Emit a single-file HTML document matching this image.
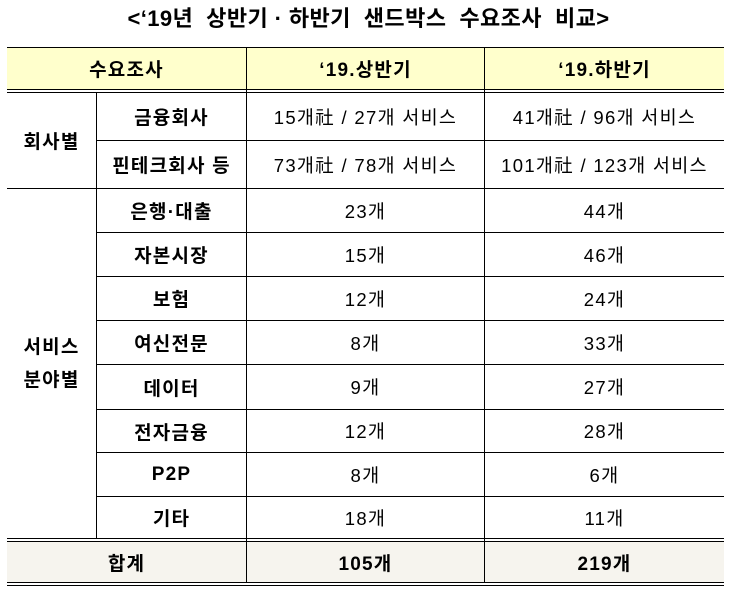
<!DOCTYPE html>
<html>
<head>
<meta charset="utf-8">
<style>
  html,body{margin:0;padding:0;background:#fff;}
  body{width:735px;height:595px;position:relative;overflow:hidden;
    font-family:"Liberation Sans","Noto Sans CJK KR",sans-serif;color:#000;}
  .h{position:absolute;height:1px;background:#000;}
  .v{position:absolute;width:1px;background:#000;}
  .c{position:absolute;display:flex;align-items:center;justify-content:center;
     font-size:18.5px;letter-spacing:1.3px;white-space:nowrap;text-align:center;}
  .b{font-weight:bold;font-size:19px;letter-spacing:1.2px;}
  .title{position:absolute;left:0;top:1px;width:737px;text-align:center;
     font-size:22px;font-weight:bold;letter-spacing:0.4px;white-space:pre;}
</style>
</head>
<body>
<div class="title">&lt;‘19년  상반기 · 하반기  샌드박스  수요조사  비교&gt;</div>

<!-- fills -->
<div style="position:absolute;left:7px;top:48px;width:717px;height:41px;background:#FFFFCC;"></div>
<div style="position:absolute;left:7px;top:542px;width:717px;height:40px;background:#F6F4EE;"></div>

<!-- horizontal lines -->
<div class="h" style="left:7px;top:47px;width:717px;"></div>
<div class="h" style="left:7px;top:89px;width:717px;"></div>
<div class="h" style="left:7px;top:92px;width:717px;"></div>
<div class="h" style="left:96px;top:140px;width:628px;"></div>
<div class="h" style="left:7px;top:188px;width:717px;"></div>
<div class="h" style="left:96px;top:232px;width:628px;"></div>
<div class="h" style="left:96px;top:276px;width:628px;"></div>
<div class="h" style="left:96px;top:320px;width:628px;"></div>
<div class="h" style="left:96px;top:364px;width:628px;"></div>
<div class="h" style="left:96px;top:409px;width:628px;"></div>
<div class="h" style="left:96px;top:452px;width:628px;"></div>
<div class="h" style="left:96px;top:496px;width:628px;"></div>
<div class="h" style="left:7px;top:538px;width:717px;"></div>
<div class="h" style="left:7px;top:541px;width:717px;"></div>
<div class="h" style="left:7px;top:582px;width:717px;"></div>
<div class="h" style="left:7px;top:585px;width:717px;"></div>

<!-- vertical lines -->
<div class="v" style="left:246px;top:47px;height:535px;"></div>
<div class="v" style="left:484px;top:47px;height:535px;"></div>
<div class="v" style="left:96px;top:92px;height:446px;"></div>

<!-- header -->
<div class="c b" style="left:7px;top:48px;width:239px;height:41px;">수요조사</div>
<div class="c b" style="left:247px;top:48px;width:237px;height:41px;">‘19.상반기</div>
<div class="c b" style="left:485px;top:48px;width:239px;height:41px;">‘19.하반기</div>

<!-- 회사별 -->
<div class="c b" style="left:7px;top:93px;width:89px;height:95px;">회사별</div>
<div class="c b" style="left:97px;top:93px;width:149px;height:47px;">금융회사</div>
<div class="c" style="left:247px;top:93px;width:237px;height:47px;">15개社 / 27개 서비스</div>
<div class="c" style="left:485px;top:93px;width:239px;height:47px;">41개社 / 96개 서비스</div>
<div class="c b" style="left:97px;top:141px;width:149px;height:47px;">핀테크회사 등</div>
<div class="c" style="left:247px;top:141px;width:237px;height:47px;">73개社 / 78개 서비스</div>
<div class="c" style="left:485px;top:141px;width:239px;height:47px;">101개社 / 123개 서비스</div>

<!-- 서비스 분야별 -->
<div class="c b" style="left:7px;top:189px;width:89px;height:349px;line-height:33px;">서비스<br>분야별</div>

<div class="c b" style="left:97px;top:189px;width:149px;height:43px;">은행·대출</div>
<div class="c" style="left:247px;top:189px;width:237px;height:43px;">23개</div>
<div class="c" style="left:485px;top:189px;width:239px;height:43px;">44개</div>

<div class="c b" style="left:97px;top:233px;width:149px;height:43px;">자본시장</div>
<div class="c" style="left:247px;top:233px;width:237px;height:43px;">15개</div>
<div class="c" style="left:485px;top:233px;width:239px;height:43px;">46개</div>

<div class="c b" style="left:97px;top:277px;width:149px;height:43px;">보험</div>
<div class="c" style="left:247px;top:277px;width:237px;height:43px;">12개</div>
<div class="c" style="left:485px;top:277px;width:239px;height:43px;">24개</div>

<div class="c b" style="left:97px;top:321px;width:149px;height:43px;">여신전문</div>
<div class="c" style="left:247px;top:321px;width:237px;height:43px;">8개</div>
<div class="c" style="left:485px;top:321px;width:239px;height:43px;">33개</div>

<div class="c b" style="left:97px;top:365px;width:149px;height:44px;">데이터</div>
<div class="c" style="left:247px;top:365px;width:237px;height:44px;">9개</div>
<div class="c" style="left:485px;top:365px;width:239px;height:44px;">27개</div>

<div class="c b" style="left:97px;top:410px;width:149px;height:42px;">전자금융</div>
<div class="c" style="left:247px;top:410px;width:237px;height:42px;">12개</div>
<div class="c" style="left:485px;top:410px;width:239px;height:42px;">28개</div>

<div class="c b" style="left:97px;top:453px;width:149px;height:43px;">P2P</div>
<div class="c" style="left:247px;top:453px;width:237px;height:43px;">8개</div>
<div class="c" style="left:485px;top:453px;width:239px;height:43px;">6개</div>

<div class="c b" style="left:97px;top:497px;width:149px;height:41px;">기타</div>
<div class="c" style="left:247px;top:497px;width:237px;height:41px;">18개</div>
<div class="c" style="left:485px;top:497px;width:239px;height:41px;">11개</div>

<!-- total -->
<div class="c b" style="left:7px;top:542px;width:239px;height:40px;">합계</div>
<div class="c b" style="left:247px;top:542px;width:237px;height:40px;">105개</div>
<div class="c b" style="left:485px;top:542px;width:239px;height:40px;">219개</div>
</body>
</html>
